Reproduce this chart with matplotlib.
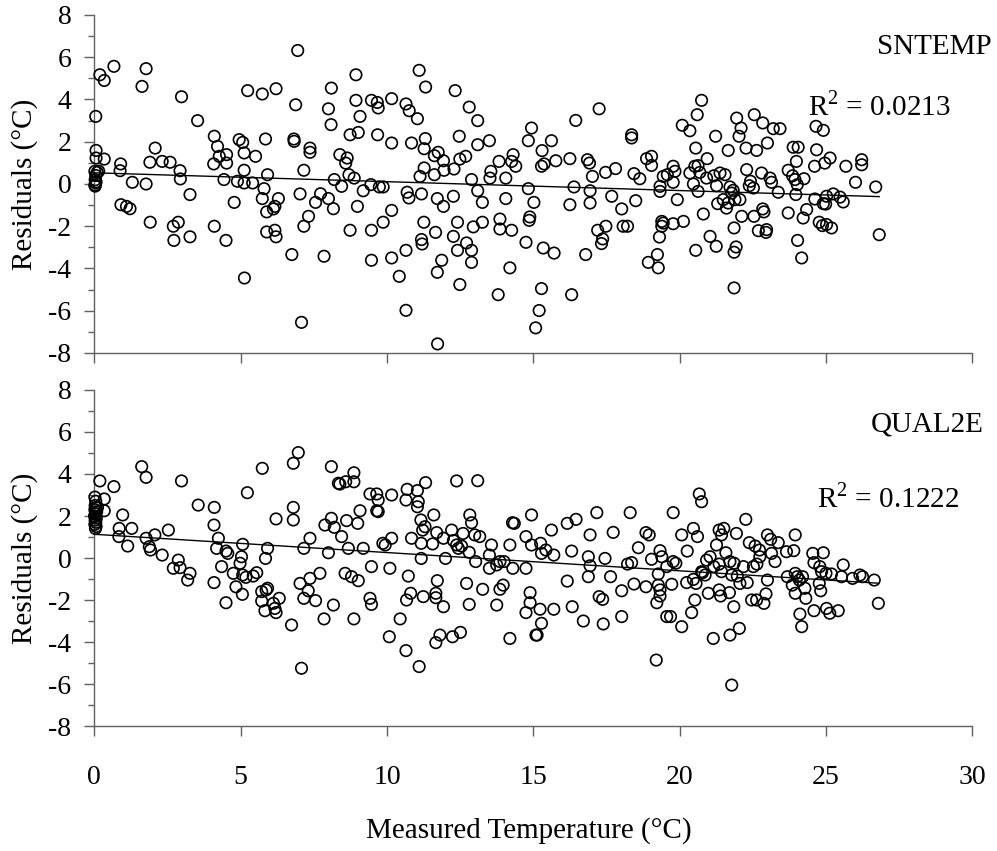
import numpy as np
import matplotlib
matplotlib.use("Agg")
import matplotlib.pyplot as plt
from matplotlib.ticker import MultipleLocator

plt.rcParams['font.family'] = ['Liberation Serif', 'DejaVu Serif']
plt.rcParams['mathtext.fontset'] = 'custom'
plt.rcParams['mathtext.rm'] = 'Liberation Serif'
plt.rcParams['axes.unicode_minus'] = False

# ---- data (measured temperature, residual) ----
sntemp_points = [
    (0.19, 5.17), (0.34, 4.9), (0.67, 5.57), (1.77, 5.46), (1.63, 4.62), (0.05, 3.2), (2.98, 4.13), (3.53, 3.0),
    (0.06, 1.59), (0.06, 1.23), (0.34, 1.18), (0.02, 0.6), (0.05, 0.4), (0.03, 0.2), (0.04, 0.05), (0.02, -0.05),
    (0.06, 0.1), (0.1, 0.55), (0.03, -0.1), (0.15, 0.61), (0.9, 0.95), (0.88, 0.63), (0.91, -0.98), (1.1, -1.06),
    (1.22, -1.17), (1.3, 0.08), (1.77, 0.0), (1.9, 1.03), (1.91, -1.81), (2.08, 1.7), (2.32, 1.07), (2.59, 1.03),
    (2.7, -2.0), (2.87, -1.81), (2.72, -2.67), (2.93, 0.63), (2.94, 0.24), (3.27, -0.5), (3.27, -2.5), (4.1, 2.26),
    (4.21, 1.78), (4.08, 0.95), (4.27, 1.31), (4.52, 1.39), (4.52, 0.99), (4.43, 0.21), (4.1, -2.0), (4.5, -2.67),
    (4.78, -0.87), (4.95, 2.1), (5.07, 1.97), (5.12, 1.47), (5.12, 0.65), (4.89, 0.13), (5.12, 0.05), (5.41, 0.05),
    (5.51, 1.31), (5.24, 4.42), (5.74, 4.26), (6.21, 4.51), (5.13, -4.45), (5.85, 2.13), (5.92, 0.44), (5.8, -0.22),
    (5.74, -0.69), (5.89, -1.32), (6.12, -1.18), (6.17, -1.06), (6.29, -0.69), (5.89, -2.27), (6.17, -2.19),
    (6.21, -2.5), (6.95, 6.32), (6.88, 3.75), (6.82, 2.13), (6.83, 2.02), (7.16, 0.65), (7.03, -0.47), (6.75, -3.34),
    (7.16, -2.0), (7.32, -1.53), (7.08, -6.55), (7.37, 1.7), (7.37, 1.5), (7.56, -0.87), (7.73, -0.46), (8.0, -0.69),
    (8.0, 3.56), (8.09, 2.81), (8.1, 4.54), (7.85, -3.42), (8.17, -1.17), (8.2, 0.21),
    (8.94, 5.17), (11.1, 5.38), (11.32, 4.59), (12.33, 4.42), (8.94, 3.96), (9.08, 3.2), (9.02, 2.44), (8.74, 2.33),
    (9.47, 3.96), (9.67, 3.86), (9.7, 3.6), (10.16, 4.04), (10.65, 3.79), (10.76, 3.47), (11.04, 3.09), (9.68, 2.33),
    (10.16, 1.94), (10.84, 1.94), (11.31, 2.15), (11.27, 1.67), (12.81, 3.64), (13.1, 3.0), (12.47, 2.26),
    (13.1, 1.86), (13.5, 2.05), (8.39, 1.39), (8.64, 1.23), (8.59, 0.99), (8.7, 0.44), (8.45, -0.11), (8.88, 0.28),
    (9.19, -0.32), (9.45, -0.03), (9.74, -0.14), (9.87, -0.14), (8.99, -1.06), (8.74, -2.19), (9.47, -2.19),
    (9.87, -1.81), (10.16, -1.25), (9.47, -3.61), (10.16, -3.5), (10.42, -4.37), (10.65, -3.14), (10.65, -5.98),
    (10.69, -0.39), (10.75, -0.66), (11.18, -0.47), (11.13, 0.36), (11.27, 0.76), (11.62, 0.44), (11.62, 1.34),
    (11.75, 1.5), (11.93, 1.1), (11.95, 0.65), (12.29, 0.71), (12.49, 1.18), (12.69, 1.31), (11.72, -0.69),
    (11.93, -1.06), (12.27, -0.58), (11.26, -1.81), (11.66, -2.29), (11.18, -2.63), (11.2, -2.84), (11.87, -3.61),
    (11.72, -4.18), (11.73, -7.57), (12.41, -1.81), (12.27, -2.48), (12.41, -3.14), (12.72, -2.79), (12.89, -3.14),
    (12.89, -3.71), (12.49, -4.76), (12.89, 0.21), (13.1, -0.32), (13.26, -0.87), (12.95, -2.03), (13.26, -1.81),
    (13.55, 0.6), (13.52, 0.28), (13.83, 1.07), (14.06, 0.28), (14.26, 1.07), (14.31, 1.39), (14.4, 0.84),
    (14.06, -0.69), (13.86, -1.66), (13.86, -2.13), (14.26, -2.19), (14.2, -3.97), (13.8, -5.24), (14.94, 2.65),
    (14.83, 2.05), (15.3, 1.58), (15.62, 2.05), (15.37, 0.95), (15.28, 0.84), (15.77, 1.1), (14.83, -0.22),
    (15.02, -0.87), (14.88, -1.56), (14.86, -1.72), (14.75, -2.76), (15.34, -3.03), (15.71, -3.27), (15.28, -4.95),
    (15.2, -5.99), (15.08, -6.81), (16.45, 3.01), (17.25, 3.56), (16.25, 1.2), (16.39, -0.14), (16.25, -0.98),
    (16.85, 1.15), (16.92, 0.99), (17.02, 0.36), (16.94, -0.32), (16.94, -0.9), (16.79, -3.34), (16.31, -5.24),
    (17.2, -2.19), (17.37, -2.6), (17.33, -2.82), (17.48, -2.0), (17.47, 0.55), (17.81, 0.73), (17.68, -0.58),
    (18.02, -1.18), (18.07, -2.0), (18.22, -2.0), (18.36, 2.33), (18.36, 2.18), (18.44, 0.49), (18.64, 0.25),
    (18.5, -0.79), (18.87, 1.2), (19.04, 1.31), (19.04, 0.88), (19.44, 0.36), (19.33, -0.11), (19.33, -0.35),
    (19.39, -1.77), (19.44, -1.85), (19.39, -2.0), (19.31, -2.51), (19.24, -3.34), (18.93, -3.71), (19.27, -3.97),
    (20.75, 3.96), (20.6, 3.28), (20.09, 2.78), (20.35, 2.52), (21.23, 2.26), (20.55, 1.7), (20.94, 1.2),
    (21.66, 1.59), (21.95, 3.12), (22.1, 2.65), (22.03, 2.26), (22.27, 1.7), (22.55, 3.28), (22.84, 2.89),
    (23.2, 2.62), (23.43, 2.62), (23.0, 1.94), (22.63, 1.59), (23.88, 1.74), (24.05, 1.74), (24.68, 1.62),
    (24.66, 2.73), (24.91, 2.54), (23.99, 1.07), (25.14, 1.23), (24.96, 0.99), (24.61, 0.84), (26.22, 1.15),
    (26.22, 0.91), (25.68, 0.84), (26.01, 0.08), (26.7, -0.14), (26.82, -2.4), (19.78, 0.84), (19.84, 0.6),
    (19.58, 0.44), (19.78, 0.08), (19.92, -0.74), (20.13, -1.77), (19.78, -1.88), (20.35, 0.52), (20.52, 0.84),
    (20.63, 0.87), (20.69, 0.55), (20.47, 0.0), (20.63, -0.35), (20.81, -1.42), (21.04, -2.48), (21.25, -2.95),
    (20.55, -3.14), (20.92, 0.28), (21.17, 0.39), (21.38, 0.52), (21.55, 0.44), (21.26, -0.08), (21.49, -0.74),
    (21.3, -0.93), (21.66, -0.9), (21.6, -1.14), (21.78, -0.43), (21.83, -0.3), (21.89, -0.74), (21.72, -0.14),
    (22.06, -0.74), (22.12, -1.53), (21.86, -2.08), (21.93, -2.98), (21.86, -3.23), (21.86, -4.92), (22.29, 0.68),
    (22.42, 0.13), (22.52, -0.19), (22.38, -0.08), (22.54, -1.53), (22.84, -1.18), (22.88, -1.32), (22.69, -2.21),
    (22.97, -2.16), (22.95, -2.29), (22.8, 0.52), (23.09, 0.28), (23.14, 0.08), (23.37, -0.39), (23.71, -1.37),
    (23.71, 0.65), (23.86, 0.39), (23.94, 0.21), (24.02, -0.03), (24.25, 0.25), (23.97, -0.5), (24.22, -1.61),
    (24.34, -1.21), (24.03, -2.67), (24.17, -3.5), (24.62, -0.71), (24.91, -0.93), (25.02, -0.58), (25.25, -0.47),
    (25.48, -0.62), (25.59, -0.85), (24.77, -1.81), (24.88, -1.97), (25.02, -1.92), (25.19, -2.08), (24.99, -0.95),
]

qual2e_points = [
    (0.02, 2.9), (0.05, 2.7), (0.03, 2.5), (0.06, 2.4), (0.02, 2.3), (0.08, 2.2), (0.04, 2.1), (0.01, 2.0),
    (0.07, 1.9), (0.03, 1.8), (0.05, 1.7), (0.02, 1.6), (0.06, 1.5), (0.04, 1.4), (0.19, 3.67), (0.34, 2.81),
    (0.34, 2.25), (0.11, 2.41), (0.67, 3.4), (1.62, 4.35), (1.77, 3.84), (2.98, 3.67), (3.55, 2.52), (4.1, 2.41),
    (4.09, 1.57), (0.97, 2.05), (0.85, 1.41), (0.84, 1.02), (1.14, 0.57), (1.28, 1.41), (1.77, 0.94), (2.07, 1.1),
    (2.53, 1.33), (1.88, 0.54), (1.92, 0.38), (2.32, 0.14), (2.87, -0.1), (2.7, -0.49), (2.93, -0.46), (3.27, -0.73),
    (3.19, -1.05), (4.24, 0.94), (4.18, 0.46), (4.5, 0.33), (4.56, 0.22), (4.35, -0.41), (4.09, -1.17), (4.5, -2.13),
    (4.75, -0.73), (4.84, -1.37), (5.07, 0.65), (5.03, 0.06), (4.98, -0.25), (5.07, -0.81), (5.18, -0.92),
    (5.06, -1.73), (5.43, -0.86), (5.55, -0.7), (5.23, 3.11), (5.74, 4.27), (6.21, 1.86), (5.92, 0.46),
    (5.85, -0.02), (5.72, -1.6), (5.87, -1.52), (5.72, -2.05), (5.83, -2.51), (5.92, -1.44), (6.12, -2.16),
    (6.17, -2.4), (6.21, -2.6), (6.32, -1.92), (6.8, 4.51), (6.97, 5.02), (6.8, 2.41), (6.8, 1.81), (6.74, -3.19),
    (7.16, 0.46), (7.37, 0.94), (7.03, -1.21), (7.37, -0.97), (7.31, -1.56), (7.16, -1.92), (7.56, -2.03),
    (7.71, -0.73), (7.08, -5.25), (7.85, -2.9), (7.88, 1.57), (8.0, 0.25), (8.1, 4.35), (8.1, 1.89), (8.17, -2.24),
    (8.2, 1.46), (8.34, 3.56),
    (8.39, 3.52), (8.59, 3.63), (8.87, 4.06), (8.87, 3.63), (9.42, 3.05), (9.65, 3.05), (9.7, 2.76), (9.65, 2.25),
    (9.7, 2.21), (10.16, 3.0), (9.08, 2.25), (9.0, 1.65), (8.62, 1.78), (8.45, 1.02), (8.68, 0.46), (9.19, 0.46),
    (9.47, -0.41), (8.57, -0.73), (8.79, -0.89), (9.02, -1.08), (9.42, -1.92), (9.47, -2.21), (8.87, -2.9),
    (9.86, 0.7), (9.94, 0.62), (10.16, 0.94), (10.1, -0.49), (10.08, -3.75), (10.45, -2.9), (10.65, -4.41),
    (11.1, -5.17), (10.69, 3.27), (10.65, 2.76), (11.04, 3.21), (11.07, 2.68), (11.04, 2.44), (11.32, 3.59),
    (10.84, 0.94), (11.16, 1.81), (11.3, 1.49), (11.22, 1.33), (11.6, 2.05), (11.7, 1.21), (11.17, 0.7),
    (11.17, -0.02), (11.56, 0.67), (11.93, 0.94), (10.73, -0.86), (10.81, -1.68), (10.67, -2.0), (11.24, -1.84),
    (11.67, -1.68), (11.72, -1.08), (11.67, -1.89), (11.93, -2.32), (11.81, -3.67), (11.67, -4.03), (12.24, -3.75),
    (12.51, -3.54), (12.21, 1.33), (12.27, 0.83), (12.38, 0.62), (12.44, 0.46), (12.55, 0.57), (12.38, 3.67),
    (13.1, 3.68), (12.83, 2.05), (12.89, 1.68), (12.6, 1.17), (13.0, 1.1), (13.17, 1.02), (12.81, 0.27),
    (12.0, -0.02), (12.72, -1.21), (12.81, -2.21), (13.03, -0.17), (13.27, -1.49), (13.57, 0.62), (13.5, 0.14),
    (13.5, -0.49), (13.75, -0.33), (13.86, -0.17), (14.0, -0.17), (14.3, -0.49), (13.75, -2.24), (13.86, -1.49),
    (13.97, -1.29), (14.2, 0.62), (14.29, 1.68), (14.35, 1.65), (14.2, -3.83), (14.75, 1.02), (14.94, 2.05),
    (14.94, 0.62), (15.25, 0.7), (15.28, 0.22), (14.75, -0.49), (14.89, -1.65), (14.89, -2.13), (14.75, -2.6),
    (15.23, -2.44), (15.28, -3.11), (15.09, -3.67), (15.13, -3.67), (15.43, 0.38), (15.62, 1.33), (15.7, 0.14),
    (15.7, -2.44), (16.16, 1.65), (16.46, 1.84), (16.31, 0.33), (16.16, -1.1), (16.33, -2.32), (16.71, -3.0),
    (17.17, 2.16), (16.94, 1.1), (16.88, 0.06), (16.94, -0.37), (16.88, -0.89), (17.25, -1.84), (17.37, -1.97),
    (17.39, -3.14), (17.45, -0.02), (17.73, 1.22), (17.64, -0.89), (18.02, -1.56), (18.02, -2.79), (18.31, 2.16),
    (18.22, -0.29), (18.36, -0.22), (18.44, -1.24), (18.59, 0.49), (18.85, 1.21), (18.96, 1.1), (18.85, -1.37),
    (19.04, -0.06), (19.33, 0.35), (19.39, 0.06), (19.27, -0.76), (19.27, -1.29), (19.33, -1.52), (19.33, -1.81),
    (19.22, -2.13), (19.2, -4.86), (19.56, -0.41), (19.56, -2.79),
    (20.67, 3.05), (20.75, 2.68), (19.78, 2.16), (20.07, 1.1), (20.47, 1.41), (20.61, 1.02), (20.26, 0.33),
    (19.78, -0.17), (19.87, -0.25), (19.73, -1.25), (20.24, -1.17), (20.47, -1.02), (20.56, -1.21), (20.75, -0.65),
    (20.87, -0.81), (20.52, -2.0), (20.41, -2.6), (19.69, -2.79), (20.07, -3.27), (21.15, -3.83), (21.72, -3.67),
    (22.04, -3.35), (21.78, -6.05), (20.98, -1.68), (21.35, -1.52), (21.4, -1.81), (21.7, -1.65), (21.85, -2.32),
    (22.26, 1.84), (21.35, 1.33), (21.51, 1.41), (21.43, 1.1), (21.94, 1.17), (21.26, 0.62), (21.58, 0.25),
    (21.04, 0.06), (21.17, -0.41), (21.35, -0.29), (21.43, -0.65), (20.92, -0.1), (20.78, -0.7), (21.72, -0.17),
    (21.86, -0.25), (21.78, -0.81), (21.97, -0.86), (22.06, -1.21), (22.31, -1.17), (22.18, -0.41), (22.38, 0.73),
    (22.58, 0.57), (22.73, 0.38), (22.74, 0.06), (22.52, -0.41), (22.64, -0.29), (22.46, -2.0), (22.63, -2.0),
    (22.88, -2.16), (22.95, -1.71), (23.0, 1.1), (23.11, 0.89), (23.37, 0.73), (23.14, 0.22), (23.26, -0.17),
    (23.0, -1.05), (23.65, 0.3), (23.9, 0.35), (23.95, 1.1), (23.68, -0.89), (23.85, -1.29), (23.95, -0.73),
    (24.02, -0.89), (24.09, -1.05), (24.2, -0.89), (24.28, -1.44), (23.95, -1.68), (24.31, -1.92), (24.11, -2.67),
    (24.17, -3.27), (24.59, -2.51), (24.55, 0.22), (24.59, -0.22), (24.79, -0.41), (24.91, 0.25), (24.85, -0.65),
    (25.0, -0.73), (25.19, -0.76), (24.77, -1.21), (24.82, -1.56), (25.02, -2.4), (25.13, -2.63), (25.42, -2.51),
    (25.59, -0.33), (25.53, -0.89), (25.91, -0.97), (26.16, -0.81), (26.25, -0.89), (26.65, -1.05), (26.79, -2.16),
]

# linear trend lines (intercept, slope) and R^2 labels
sntemp_fit = (0.53, -0.042)
qual2e_fit = (1.13, -0.087)
model_names = ["SNTEMP", "QUAL2E"]
r2_labels = ["0.0213", "0.1222"]

x_ticks = [0, 5, 10, 15, 20, 25, 30]
y_ticks = [-8, -6, -4, -2, 0, 2, 4, 6, 8]

W, H = 997, 851
fig = plt.figure(figsize=(W / 100, H / 100), dpi=100)

left = 94.3 / W
width = (972.3 - 94.3) / W
ax_top = fig.add_axes([left, 1 - 353 / H, width, 338 / H])
ax_bot = fig.add_axes([left, 1 - 726 / H, width, 336 / H])

spine_color = '#606060'
panels = [
    (ax_top, sntemp_points, sntemp_fit, model_names[0], r2_labels[0], (30.67, 6.15), (24.4, 3.27)),
    (ax_bot, qual2e_points, qual2e_fit, model_names[1], r2_labels[1], (30.4, 6.0), (24.7, 2.43)),
]

for ax, pts, fit, name, r2, name_pos, r2_pos in panels:
    arr = np.array(pts)
    xs, ys = arr[:, 0], arr[:, 1]
    ax.scatter(xs, ys, s=68, facecolors='none', edgecolors='black', linewidths=1.2, zorder=3, clip_on=False)
    xl = np.array([0, xs.max()])
    ax.plot(xl, fit[0] + fit[1] * xl, color='black', lw=1.0, zorder=4)
    ax.set_xlim(0, 30)
    ax.set_ylim(-8, 8)
    ax.set_xticks(x_ticks)
    ax.set_yticks(y_ticks)
    ax.yaxis.set_minor_locator(MultipleLocator(1))
    for s in ['top', 'right']:
        ax.spines[s].set_visible(False)
    for s in ['left', 'bottom']:
        ax.spines[s].set_color(spine_color)
        ax.spines[s].set_linewidth(1.0)
    ax.tick_params(axis='y', which='major', direction='out', length=7.5, width=1.0, color=spine_color,
                   labelsize=20, pad=9)
    ax.tick_params(axis='y', which='minor', direction='out', length=4.3, width=1.0, color=spine_color)
    ax.tick_params(axis='x', which='major', direction='out', length=7.2, width=1.0, color=spine_color,
                   labelsize=20, pad=21)
    ax.text(-0.080, 0.5, "Residuals (°C)", transform=ax.transAxes, rotation=90,
            ha='center', va='center', fontsize=21)
    ax.text(name_pos[0], name_pos[1], name, ha='right', va='baseline', fontsize=21, clip_on=False)
    ax.text(r2_pos[0], r2_pos[1], "R$^{2}$ = " + r2, ha='left', va='baseline', fontsize=21, clip_on=False)

ax_top.tick_params(axis='x', labelbottom=False)

fig.text(529 / W, 1 - 838 / H, "Measured Temperature (°C)", ha='center', va='baseline', fontsize=21)

fig.savefig("out.png", dpi=100)
